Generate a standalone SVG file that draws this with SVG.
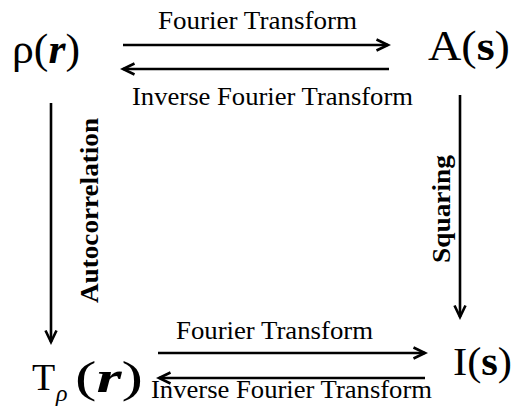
<svg xmlns="http://www.w3.org/2000/svg" width="517" height="408" viewBox="0 0 517 408">
<defs>
<style>
text{font-family:'Liberation Serif','Times New Roman',serif;fill:#000}
.lbl{font-size:25px}
.vlbl{font-size:26px;font-weight:bold}
.conn{stroke:#000;stroke-width:2.6;fill:none}
</style>
<marker id="arr" markerUnits="userSpaceOnUse" markerWidth="16" markerHeight="16" refX="13" refY="7" orient="auto">
<path d="M1.5,1.5 L13,7 L1.5,12.5" fill="none" stroke="#000" stroke-width="2.6"/>
</marker>
</defs>
<rect width="517" height="408" fill="#fff"/>
<g id="connectors">
<line class="conn" x1="123" y1="45" x2="388" y2="45" marker-end="url(#arr)"/>
<line class="conn" x1="389" y1="69" x2="123" y2="69" marker-end="url(#arr)"/>
<line class="conn" x1="158" y1="353" x2="425" y2="353" marker-end="url(#arr)"/>
<line class="conn" x1="425" y1="378" x2="159" y2="378" marker-end="url(#arr)"/>
<line class="conn" x1="51" y1="103" x2="51" y2="342" marker-end="url(#arr)"/>
<line class="conn" x1="460" y1="95" x2="460" y2="317" marker-end="url(#arr)"/>
<text class="lbl" x="158" y="29" textLength="199" lengthAdjust="spacingAndGlyphs">Fourier Transform</text>
<text class="lbl" x="132" y="105" textLength="281" lengthAdjust="spacingAndGlyphs">Inverse Fourier Transform</text>
<text class="lbl" x="176" y="339" textLength="197" lengthAdjust="spacingAndGlyphs">Fourier Transform</text>
<text class="lbl" x="151" y="398" textLength="281" lengthAdjust="spacingAndGlyphs">Inverse Fourier Transform</text>
<text class="vlbl" transform="translate(98,210.5) rotate(-90)" text-anchor="middle" textLength="185" lengthAdjust="spacingAndGlyphs">Autocorrelation</text>
<text class="vlbl" transform="translate(450,209) rotate(-90)" text-anchor="middle" textLength="108" lengthAdjust="spacingAndGlyphs">Squaring</text>
</g>
<g id="node-rho">
<text x="12" y="63" font-size="42" textLength="68" lengthAdjust="spacingAndGlyphs">ρ(<tspan font-weight="bold" font-style="italic">r</tspan>)</text>
</g>
<g id="node-A">
<text x="428" y="60" font-size="42" textLength="82" lengthAdjust="spacingAndGlyphs">A(<tspan font-weight="bold">s</tspan>)</text>
</g>
<g id="node-T">
<text x="32" y="390" font-size="38">T</text>
<text x="56" y="401" font-size="24" font-style="italic">ρ</text>
<text x="75" y="392" font-size="44" textLength="68" lengthAdjust="spacingAndGlyphs">(<tspan font-weight="bold" font-style="italic">r</tspan>)</text>
</g>
<g id="node-I">
<text x="453" y="375" font-size="40" textLength="59" lengthAdjust="spacingAndGlyphs">I(<tspan font-weight="bold">s</tspan>)</text>
</g>
</svg>
